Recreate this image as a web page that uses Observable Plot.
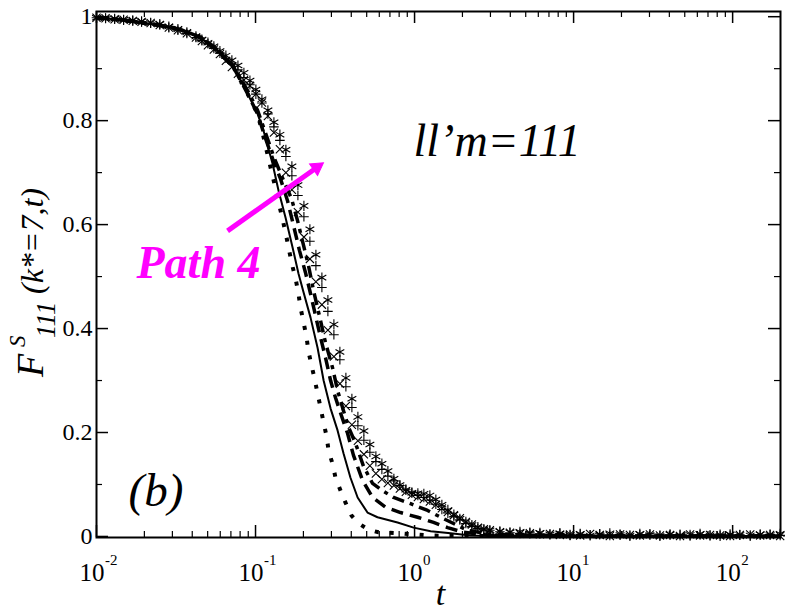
<!DOCTYPE html>
<html><head><meta charset="utf-8">
<script src="https://cdn.jsdelivr.net/npm/d3@7"></script>
<script src="https://cdn.jsdelivr.net/npm/@observablehq/plot@0.6"></script>
<style>
body{margin:0;background:#fff}
#chart{width:792px;height:612px}
#chart svg, #chart svg text, #chart svg tspan{font-family:"Liberation Serif", serif !important;}
</style>
</head><body><div id="chart"></div>
<script>
// ---------- data ----------
const dotT = [0.0101,0.0142,0.0198,0.0253,0.0323,0.039,0.0451,0.0577,0.0728,0.0891,0.103,0.112,0.121,0.130,0.1436,0.150,0.1567,0.1637,0.171,0.1786,0.1862,0.1919,0.2004,0.2094,0.2153,0.2249,0.235,0.2455,0.2564,0.268,0.28,0.288,0.3048,0.3184,0.3428,0.368,0.4018,0.4446,0.514,0.5943,0.8166,1.208,1.8,3,10,50,200];
const dotF = [0.998,0.994,0.988,0.983,0.977,0.968,0.96,0.935,0.902,0.852,0.813,0.77,0.725,0.685,0.627,0.602,0.575,0.546,0.519,0.496,0.467,0.44,0.412,0.383,0.356,0.329,0.304,0.275,0.248,0.219,0.192,0.165,0.14,0.113,0.088,0.065,0.04,0.025,0.013,0.008,0.006,0.002,0.001,0.001,0.001,0.001,0.001];

const solidT = [0.0101,0.0142,0.0198,0.0253,0.0323,0.039,0.0451,0.0577,0.0728,0.0891,0.103,0.1122,0.128,0.1396,0.1545,0.171,0.1862,0.2004,0.2218,0.2455,0.268,0.2965,0.328,0.3573,0.3954,0.4385,0.5058,0.5848,0.7817,0.9863,1.262,1.684,2.249,3,10,50,200];
const solidF = [0.998,0.994,0.988,0.983,0.977,0.968,0.96,0.935,0.902,0.852,0.813,0.781,0.717,0.665,0.613,0.556,0.506,0.47,0.421,0.363,0.30,0.246,0.204,0.160,0.113,0.075,0.046,0.037,0.027,0.017,0.01,0.006,0.002,0.001,0.001,0.001,0.001];

const dashT = [0.0101,0.0142,0.0198,0.0253,0.0323,0.039,0.0451,0.0577,0.0728,0.0891,0.103,0.114,0.128,0.1436,0.1589,0.1734,0.189,0.206,0.2218,0.2383,0.2564,0.2754,0.2965,0.3184,0.3428,0.3793,0.413,0.471,0.5445,0.6577,0.8166,1.045,1.316,1.614,2.033,3,10,50,200];
const dashF = [0.998,0.994,0.988,0.983,0.977,0.968,0.96,0.935,0.902,0.852,0.813,0.771,0.727,0.688,0.646,0.598,0.55,0.508,0.467,0.425,0.383,0.344,0.30,0.267,0.237,0.198,0.156,0.108,0.075,0.056,0.046,0.037,0.027,0.017,0.008,0.002,0.001,0.001,0.001];

const ddT = [0.0101,0.0142,0.0198,0.0253,0.0323,0.039,0.0451,0.0577,0.0728,0.0891,0.103,0.1172,0.1315,0.150,0.1684,0.1836,0.2004,0.2153,0.2317,0.2564,0.2754,0.3048,0.328,0.3573,0.3846,0.4256,0.4775,0.5445,0.6295,0.7379,0.9441,1.208,1.459,1.758,2.153,3.0,10,50,200];
const ddF = [0.998,0.994,0.988,0.983,0.977,0.968,0.96,0.936,0.905,0.858,0.82,0.771,0.727,0.685,0.65,0.608,0.56,0.521,0.473,0.415,0.373,0.325,0.281,0.242,0.21,0.179,0.135,0.102,0.088,0.075,0.063,0.05,0.037,0.025,0.012,0.004,0.001,0.001,0.001];

const symT = [0.0100,0.0114,0.0130,0.0148,0.0169,0.0192,0.0219,0.0250,0.0285,0.0325,0.0370,0.0422,
  0.0460,0.0502,0.0547,0.0597,0.0651,0.0710,0.0775,0.0845,0.0922,0.1005,
  0.1097,0.1196,0.1305,0.1423,0.1552,0.1693,0.1847,0.2015,0.2197,0.2397,
  0.2614,0.2851,0.311,0.3392,0.370,0.4036,0.4402,0.4801,0.5237,0.5712,
  0.623,0.6796,0.7412,0.8085,0.8818,0.9618,1.049,1.144,1.248,1.361,
  1.485,1.62,1.767,1.927,2.102,2.293,2.501,2.728,2.975,
  3.44,3.98,4.6,5.31,6.14,7.1,8.2,9.5,11.0,12.7,
  14.6,16.9,19.6,22.6,26.1,30.2,34.9,40.4,46.7,54.0,
  62.4,72.1,83.4,96.4,111,129,149,172,199];
const starF = [0.998,0.997,0.996,0.994,0.993,0.991,0.988,0.986,0.981,0.976,0.970,0.962,
  0.956,0.950,0.943,0.934,0.925,0.916,0.906,0.892,0.877,0.860,
  0.841,0.820,0.797,0.773,0.744,0.712,0.676,0.636,0.591,0.542,
  0.498,0.455,0.408,0.355,0.305,0.265,0.230,0.203,0.177,0.154,
  0.140,0.126,0.111,0.099,0.090,0.084,0.083,0.082,0.079,0.071,
  0.061,0.051,0.042,0.034,0.028,0.022,0.018,0.014,0.012,
  0.010,0.008,0.009,0.006,0.007,0.004,0.006,0.003,0.005,0.002,
  0.004,0.006,0.003,0.002,0.005,0.003,0.001,0.004,0.002,0.003,
  0.005,0.002,0.001,0.004,0.003,0.002,0.004,0.003,0.005];
const plusF = [0.998,0.997,0.995,0.994,0.992,0.990,0.988,0.984,0.979,0.974,0.968,0.960,
  0.954,0.948,0.939,0.930,0.920,0.911,0.898,0.883,0.869,0.851,
  0.834,0.813,0.788,0.762,0.731,0.694,0.656,0.615,0.568,0.521,
  0.479,0.433,0.388,0.340,0.288,0.248,0.213,0.185,0.162,0.144,
  0.129,0.116,0.107,0.098,0.090,0.085,0.079,0.075,0.070,0.062,
  0.052,0.045,0.038,0.032,0.025,0.019,0.015,0.013,0.012,
  0.009,0.007,0.006,0.008,0.005,0.004,0.006,0.002,0.004,0.003,
  0.005,0.002,0.004,0.001,0.003,0.005,0.002,0.003,0.004,0.001,
  0.003,0.002,0.004,0.002,0.003,0.001,0.003,0.004,0.002];
const crossF = [0.998,0.997,0.995,0.994,0.992,0.990,0.988,0.984,0.979,0.974,0.968,0.960,
  0.953,0.945,0.937,0.928,0.915,0.903,0.890,0.878,0.867,0.851,
  0.835,0.809,0.777,0.745,0.700,0.667,0.624,0.576,0.534,0.490,
  0.446,0.397,0.346,0.294,0.251,0.215,0.184,0.158,0.136,0.121,
  0.110,0.103,0.098,0.092,0.086,0.080,0.076,0.072,0.067,0.061,
  0.054,0.047,0.041,0.035,0.028,0.023,0.017,0.014,0.012,
  0.008,0.007,0.005,0.006,0.004,0.005,0.003,0.004,0.002,0.005,
  0.003,0.001,0.004,0.003,0.002,0.004,0.002,0.003,0.001,0.004,
  0.002,0.003,0.002,0.001,0.003,0.004,0.002,0.003,0.001];

// annotation arrow ("Path 4") in data coordinates
const arrowT = [0.0667, 0.243];
const arrowF = [0.588, 0.710];

// ticks
const xMajor = [0.01, 0.1, 1, 10, 100];
const xExp = ["-2", "-1", "0", "1", "2"];
const xMinor = [0.02,0.03,0.04,0.05,0.06,0.07,0.08,0.09,0.2,0.3,0.4,0.5,0.6,0.7,0.8,0.9,2,3,4,5,6,7,8,9,20,30,40,50,60,70,80,90];
const yMajor = [0, 0.2, 0.4, 0.6, 0.8, 1];
const yLabels = ["0", "0.2", "0.4", "0.6", "0.8", "1"];
const yMinor = [0.1, 0.3, 0.5, 0.7, 0.9];

// ---------- chart ----------
const rows = (T, F) => T.map((t, i) => ({t, F: F[i]}));
const W = 792, H = 612, mL = 96, mR = 12, mT = 11, mB = 75;
const pw = W - mL - mR, ph = H - mT - mB;
const majLen = 12, minLen = 6;
const serif = "Liberation Serif";
const magenta = "#ff00ff";
const txt = {fontFamily: serif, fill: "black"};

const chart = Plot.plot({
  width: W, height: H,
  marginLeft: mL, marginRight: mR, marginTop: mT, marginBottom: mB,
  style: {fontFamily: serif, background: "white", color: "black"},
  x: {type: "log", domain: [0.01, 200], axis: null},
  y: {domain: [-0.002, 1.01], axis: null},
  marks: [
    Plot.line(rows(dotT, dotF), {x: "t", y: "F", stroke: "black", strokeWidth: 4, strokeDasharray: "4,11", strokeLinecap: "butt"}),
    Plot.line(rows(solidT, solidF), {x: "t", y: "F", stroke: "black", strokeWidth: 2}),
    Plot.line(rows(dashT, dashF), {x: "t", y: "F", stroke: "black", strokeWidth: 3.5, strokeDasharray: "12,7", strokeLinecap: "butt"}),
    Plot.line(rows(ddT, ddF), {x: "t", y: "F", stroke: "black", strokeWidth: 3.5, strokeDasharray: "12,6,4,6", strokeLinecap: "butt"}),
    Plot.dot(rows(symT, crossF), {x: "t", y: "F", symbol: "times", r: 3.8, stroke: "black", strokeWidth: 1.1}),
    Plot.dot(rows(symT, plusF), {x: "t", y: "F", symbol: "plus", r: 3.2, stroke: "black", strokeWidth: 1.1}),
    Plot.dot(rows(symT, starF), {x: "t", y: "F", symbol: "asterisk", r: 4.8, stroke: "black", strokeWidth: 1.1}),

    // inward ticks on all four sides
    Plot.ruleX(xMajor, {x: d => d, insetTop: ph - majLen, stroke: "black", strokeWidth: 1.5}),
    Plot.ruleX(xMajor, {x: d => d, insetBottom: ph - majLen, stroke: "black", strokeWidth: 1.5}),
    Plot.ruleX(xMinor, {x: d => d, insetTop: ph - minLen, stroke: "black", strokeWidth: 1.2}),
    Plot.ruleX(xMinor, {x: d => d, insetBottom: ph - minLen, stroke: "black", strokeWidth: 1.2}),
    Plot.ruleY(yMajor, {y: d => d, insetRight: pw - majLen, stroke: "black", strokeWidth: 1.5}),
    Plot.ruleY(yMajor, {y: d => d, insetLeft: pw - majLen, stroke: "black", strokeWidth: 1.5}),
    Plot.ruleY(yMinor, {y: d => d, insetRight: pw - minLen, stroke: "black", strokeWidth: 1.2}),
    Plot.ruleY(yMinor, {y: d => d, insetLeft: pw - minLen, stroke: "black", strokeWidth: 1.2}),
    Plot.frame({stroke: "black", strokeWidth: 2}),

    // tick labels
    Plot.text(yMajor, {...txt, y: d => d, frameAnchor: "left", lineAnchor: "middle", dx: -4, textAnchor: "end", text: (d, i) => yLabels[i], fontSize: 24}),
    Plot.text(xMajor, {...txt, x: d => d, frameAnchor: "bottom", lineAnchor: "bottom", dy: 43, dx: 8, textAnchor: "end", text: () => "10", fontSize: 25}),
    Plot.text(xMajor, {...txt, x: d => d, frameAnchor: "bottom", lineAnchor: "bottom", dy: 27, dx: 8.5, textAnchor: "start", text: (d, i) => xExp[i], fontSize: 15}),
    Plot.text(["t"], {...txt, frameAnchor: "bottom", dx: 2, dy: 67, lineAnchor: "bottom", textAnchor: "middle", fontSize: 34, fontStyle: "italic"}),

    // annotations
    Plot.line(rows(arrowT, arrowF), {x: "t", y: "F", stroke: magenta, strokeWidth: 5, strokeLinecap: "butt"}),
    Plot.dot(rows(arrowT.slice(1), arrowF.slice(1)), {x: "t", y: "F", symbol: "triangle", r: 5.2, fill: magenta, stroke: magenta, strokeWidth: 1, rotate: 55}),
    Plot.text(["ll\u2019m=111"], {...txt, frameAnchor: "top-left", dx: 317, dy: 144, lineAnchor: "bottom", textAnchor: "start", fontSize: 46, fontStyle: "italic"}),
    Plot.text(["Path 4"], {...txt, frameAnchor: "top-left", dx: 40, dy: 266, lineAnchor: "bottom", textAnchor: "start", fontSize: 46, fontStyle: "italic", fontWeight: "bold", fill: magenta}),
    Plot.text(["(b)"], {...txt, frameAnchor: "top-left", dx: 32, dy: 494, lineAnchor: "bottom", textAnchor: "start", fontSize: 47, fontStyle: "italic"})
  ]
});

// y-axis label with super/subscripts (each piece placed on its own)
const svg = d3.select(chart);
const pieces = [
  {s: "F", x: 43, y: 377, size: 38},
  {s: "S", x: 25, y: 347, size: 23},
  {s: "111", x: 55, y: 338, size: 27},
  {s: "(k*=7,t)", x: 43, y: 294, size: 32}
];
for (const p of pieces) {
  svg.append("text")
    .attr("transform", `translate(${p.x},${p.y}) rotate(-90)`)
    .attr("font-family", serif).attr("font-style", "italic")
    .attr("font-size", p.size).attr("fill", "black")
    .attr("text-anchor", "start")
    .text(p.s);
}

document.getElementById("chart").appendChild(chart);
</script>
</body></html>
